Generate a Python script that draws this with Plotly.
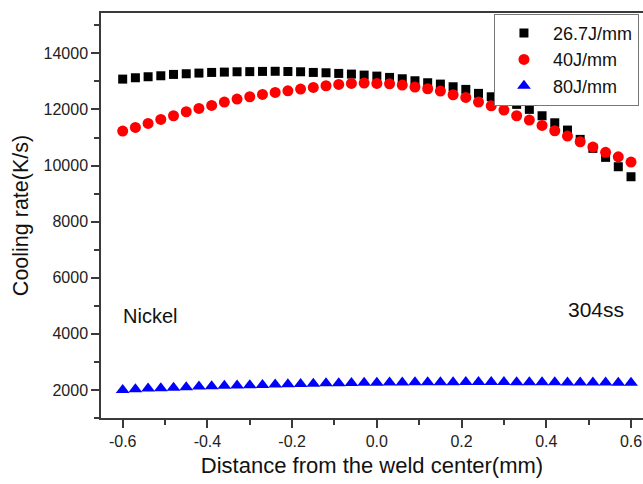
import plotly.graph_objects as go

distance_mm = [-0.60, -0.57, -0.54, -0.51, -0.48, -0.45, -0.42, -0.39, -0.36, -0.33,
               -0.30, -0.27, -0.24, -0.21, -0.18, -0.15, -0.12, -0.09, -0.06, -0.03,
               0.00, 0.03, 0.06, 0.09, 0.12, 0.15, 0.18, 0.21, 0.24, 0.27,
               0.30, 0.33, 0.36, 0.39, 0.42, 0.45, 0.48, 0.51, 0.54, 0.57, 0.60]

rate_26_7 = [13083, 13131, 13167, 13202, 13250, 13274, 13298, 13321, 13333, 13345,
             13350, 13357, 13362, 13355, 13345, 13321, 13309, 13286, 13262, 13226,
             13190, 13143, 13095, 13024, 12953, 12905, 12810, 12716, 12574, 12453,
             12310, 12182, 12004, 11776, 11526, 11266, 10934, 10614, 10293, 9958, 9602]

rate_40 = [11230, 11361, 11503, 11646, 11776, 11919, 12038, 12145, 12264, 12371,
           12454, 12537, 12608, 12667, 12727, 12786, 12846, 12893, 12929, 12941,
           12929, 12917, 12869, 12798, 12739, 12655, 12525, 12431, 12264, 12132,
           11979, 11776, 11622, 11433, 11242, 11052, 10850, 10660, 10471, 10314, 10125]

rate_80 = [2000, 2025, 2048, 2065, 2080, 2100, 2120, 2135, 2150, 2160,
           2170, 2180, 2195, 2205, 2215, 2225, 2235, 2242, 2250, 2255,
           2260, 2265, 2270, 2272, 2275, 2277, 2278, 2280, 2280, 2280,
           2280, 2278, 2276, 2274, 2272, 2270, 2268, 2265, 2262, 2260, 2258]

series_names = ["26.7J/mm", "40J/mm", "80J/mm"]
x_ticks = [-0.6, -0.4, -0.2, 0.0, 0.2, 0.4, 0.6]
x_tick_labels = ["-0.6", "-0.4", "-0.2", "0.0", "0.2", "0.4", "0.6"]
y_ticks = [2000, 4000, 6000, 8000, 10000, 12000, 14000]
y_tick_labels = ["2000", "4000", "6000", "8000", "10000", "12000", "14000"]

FONT = "Liberation Sans, Arial, sans-serif"
AX = "#3a3a3a"

fig = go.Figure()
fig.add_trace(go.Scatter(x=distance_mm, y=rate_26_7, mode="markers", name=series_names[0],
                         marker=dict(symbol="square", size=9, color="black")))
fig.add_trace(go.Scatter(x=distance_mm, y=rate_40, mode="markers", name=series_names[1],
                         marker=dict(symbol="circle", size=11, color="#ff0000")))
fig.add_trace(go.Scatter(x=distance_mm, y=rate_80, mode="markers", name=series_names[2],
                         marker=dict(symbol="triangle-up", size=12, color="#0000ff")))

fig.add_annotation(x=-0.603, y=4640, text="Nickel", showarrow=False, xanchor="left",
                   yanchor="middle", font=dict(family=FONT, size=20, color="#111"))
fig.add_annotation(x=0.587, y=4880, text="304ss", showarrow=False, xanchor="right",
                   yanchor="middle", font=dict(family=FONT, size=21, color="#111"))

fig.update_layout(
    width=643, height=484,
    margin=dict(l=101, r=0, t=13, b=66),
    paper_bgcolor="white", plot_bgcolor="white",
    font=dict(family=FONT, color="#111"),
    showlegend=True,
    legend=dict(x=0.725, y=0.998, xanchor="left", yanchor="top",
                bgcolor="white", bordercolor="#777", borderwidth=1,
                font=dict(family=FONT, size=18, color="#111"),
                tracegroupgap=0, itemsizing="trace", itemwidth=48),
    xaxis=dict(range=[-0.6512, 0.6283], tickmode="array", tickvals=x_ticks,
               ticktext=x_tick_labels, ticks="outside", ticklen=8, tickwidth=1.5,
               tickcolor=AX, showline=True, linecolor=AX, linewidth=1.5, mirror=True,
               showgrid=False, zeroline=False,
               tickfont=dict(family=FONT, size=16, color="#222"),
               minor=dict(tickvals=[-0.5, -0.3, -0.1, 0.1, 0.3, 0.5], ticks="outside",
                          ticklen=5, tickwidth=1.5, tickcolor=AX),
               title=dict(text="Distance from the weld center(mm)", standoff=9,
                          font=dict(family=FONT, size=22, color="#111"))),
    yaxis=dict(range=[1000, 15440], tickmode="array", tickvals=y_ticks,
               ticktext=y_tick_labels, ticks="outside", ticklen=8, tickwidth=1.5,
               tickcolor=AX, showline=True, linecolor=AX, linewidth=1.5, mirror=False,
               showgrid=False, zeroline=False,
               tickfont=dict(family=FONT, size=16, color="#222"),
               minor=dict(tickvals=[1000, 3000, 5000, 7000, 9000, 11000, 13000, 15000],
                          ticks="outside", ticklen=5, tickwidth=1.5, tickcolor=AX),
               title=dict(text="Cooling rate(K/s)", standoff=9,
                          font=dict(family=FONT, size=21.5, color="#111"))),
)

fig.write_html("out.html")
